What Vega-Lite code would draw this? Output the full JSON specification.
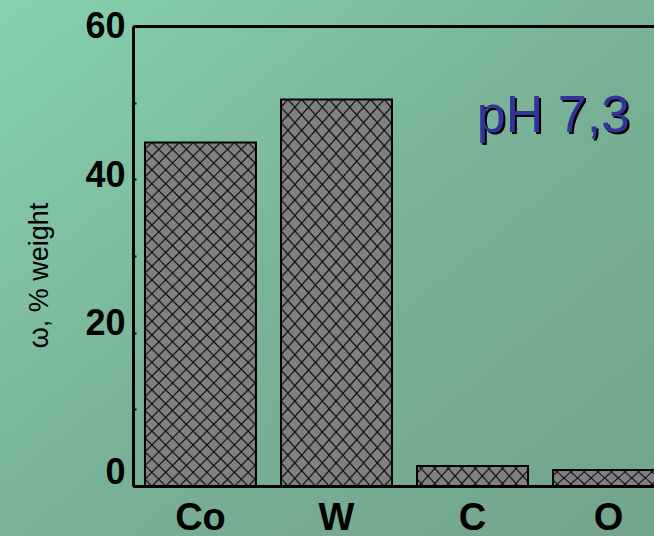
{
  "$schema": "https://vega.github.io/schema/vega-lite/v6.json",
  "width": 521,
  "height": 460,
  "autosize": {"type": "none"},
  "padding": {"left": 133, "top": 26, "right": 0, "bottom": 50},
  "background": "#7BB598",
  "config": {"view": {"stroke": null}, "font": "Liberation Sans", "axis": {"zindex": 2}},
  "resolve": {"scale": {"x": "independent", "y": "independent"}, "axis": {"x": "independent", "y": "independent"}},
  "layer": [
    {
      "data": {"values": [{"bg": 1}]},
      "mark": {
        "type": "rect",
        "clip": false,
        "fill": {
          "gradient": "linear",
          "x1": 0, "y1": 0, "x2": 1, "y2": 1,
          "stops": [
            {"offset": 0, "color": "#86D2AD"},
            {"offset": 0.5, "color": "#79B296"},
            {"offset": 1, "color": "#73A48C"}
          ]
        }
      },
      "encoding": {
        "x": {"datum": -0.2553, "type": "quantitative", "scale": {"domain": [0, 1], "nice": false, "zero": false},
              "axis": {"orient": "top", "domainColor": "black", "domainWidth": 3, "ticks": false, "labels": false, "title": null, "grid": false, "zindex": 2}},
        "x2": {"datum": 1},
        "y": {"datum": -0.1087, "type": "quantitative", "scale": {"domain": [0, 1], "nice": false, "zero": false}, "axis": null},
        "y2": {"datum": 1.0565}
      }
    },
    {
      "data": {"values": [
        {"el": "Co", "w": 44.8},
        {"el": "W", "w": 50.4},
        {"el": "C", "w": 2.6},
        {"el": "O", "w": 2.1}
      ]},
      "layer": [
        {
          "mark": {"type": "bar", "fill": "#808080", "clip": true},
          "encoding": {
            "x": {"field": "el", "type": "nominal", "sort": null,
                  "scale": {"domain": ["Co", "W", "C", "O"], "range": [0, 543], "paddingInner": 0.184, "paddingOuter": 0.088},
                  "axis": {"orient": "bottom", "title": null, "ticks": false, "domainColor": "black", "domainWidth": 3, "zindex": 2,
                           "labelAngle": 0, "labelFontSize": 38, "labelFontWeight": "bold", "labelColor": "black", "labelPadding": 13, "grid": false}},
            "y": {"field": "w", "type": "quantitative",
                  "scale": {"domain": [0, 60], "nice": false},
                  "axis": {"orient": "left", "values": [0, 10, 20, 30, 40, 50, 60], "zindex": 2,
                           "labelExpr": "datum.value % 20 == 0 ? datum.label : ''",
                           "tickSize": -3, "tickWidth": 2, "tickColor": "black",
                           "domainColor": "black", "domainWidth": 3, "grid": false,
                           "labelFontSize": 36, "labelFontWeight": "bold", "labelColor": "black", "labelPadding": 11,
                           "labelOffset": {"condition": [
                             {"test": "datum.value == 0", "value": -14},
                             {"test": "datum.value == 20", "value": -9},
                             {"test": "datum.value == 40", "value": -4}
                           ], "value": 0},
                           "title": "ω, % weight", "titleFontSize": 27, "titleFontWeight": "normal", "titleColor": "black",
                           "titleX": -94, "titleY": 249, "titleAngle": -90, "titleAlign": "center", "titleBaseline": "middle"}}
          }
        },
        {
          "transform": [{"filter": "datum.w > 10"}],
          "mark": {"type": "bar", "clip": true, "fill": {"gradient": "linear", "x1": 0, "y1": 1, "x2": 0.3872, "y2": -0.1981, "stops": [
            {"offset": 0.0115, "color": "transparent"}, {"offset": 0.015, "color": "#111"}, {"offset": 0.0185, "color": "transparent"},
            {"offset": 0.0418, "color": "transparent"}, {"offset": 0.0453, "color": "#111"}, {"offset": 0.0488, "color": "transparent"},
            {"offset": 0.072, "color": "transparent"}, {"offset": 0.0755, "color": "#111"}, {"offset": 0.079, "color": "transparent"},
            {"offset": 0.1023, "color": "transparent"}, {"offset": 0.1058, "color": "#111"}, {"offset": 0.1093, "color": "transparent"},
            {"offset": 0.1325, "color": "transparent"}, {"offset": 0.136, "color": "#111"}, {"offset": 0.1395, "color": "transparent"},
            {"offset": 0.1628, "color": "transparent"}, {"offset": 0.1663, "color": "#111"}, {"offset": 0.1698, "color": "transparent"},
            {"offset": 0.193, "color": "transparent"}, {"offset": 0.1965, "color": "#111"}, {"offset": 0.2, "color": "transparent"},
            {"offset": 0.2233, "color": "transparent"}, {"offset": 0.2268, "color": "#111"}, {"offset": 0.2303, "color": "transparent"},
            {"offset": 0.2535, "color": "transparent"}, {"offset": 0.257, "color": "#111"}, {"offset": 0.2605, "color": "transparent"},
            {"offset": 0.2838, "color": "transparent"}, {"offset": 0.2873, "color": "#111"}, {"offset": 0.2908, "color": "transparent"},
            {"offset": 0.314, "color": "transparent"}, {"offset": 0.3175, "color": "#111"}, {"offset": 0.321, "color": "transparent"},
            {"offset": 0.3443, "color": "transparent"}, {"offset": 0.3478, "color": "#111"}, {"offset": 0.3513, "color": "transparent"},
            {"offset": 0.3745, "color": "transparent"}, {"offset": 0.378, "color": "#111"}, {"offset": 0.3815, "color": "transparent"},
            {"offset": 0.4048, "color": "transparent"}, {"offset": 0.4083, "color": "#111"}, {"offset": 0.4118, "color": "transparent"},
            {"offset": 0.435, "color": "transparent"}, {"offset": 0.4385, "color": "#111"}, {"offset": 0.442, "color": "transparent"},
            {"offset": 0.4653, "color": "transparent"}, {"offset": 0.4688, "color": "#111"}, {"offset": 0.4723, "color": "transparent"},
            {"offset": 0.4955, "color": "transparent"}, {"offset": 0.499, "color": "#111"}, {"offset": 0.5025, "color": "transparent"},
            {"offset": 0.5258, "color": "transparent"}, {"offset": 0.5293, "color": "#111"}, {"offset": 0.5328, "color": "transparent"},
            {"offset": 0.556, "color": "transparent"}, {"offset": 0.5595, "color": "#111"}, {"offset": 0.563, "color": "transparent"},
            {"offset": 0.5863, "color": "transparent"}, {"offset": 0.5898, "color": "#111"}, {"offset": 0.5933, "color": "transparent"},
            {"offset": 0.6165, "color": "transparent"}, {"offset": 0.62, "color": "#111"}, {"offset": 0.6235, "color": "transparent"},
            {"offset": 0.6468, "color": "transparent"}, {"offset": 0.6503, "color": "#111"}, {"offset": 0.6538, "color": "transparent"},
            {"offset": 0.677, "color": "transparent"}, {"offset": 0.6805, "color": "#111"}, {"offset": 0.684, "color": "transparent"},
            {"offset": 0.7073, "color": "transparent"}, {"offset": 0.7108, "color": "#111"}, {"offset": 0.7143, "color": "transparent"},
            {"offset": 0.7375, "color": "transparent"}, {"offset": 0.741, "color": "#111"}, {"offset": 0.7445, "color": "transparent"},
            {"offset": 0.7678, "color": "transparent"}, {"offset": 0.7713, "color": "#111"}, {"offset": 0.7748, "color": "transparent"},
            {"offset": 0.798, "color": "transparent"}, {"offset": 0.8015, "color": "#111"}, {"offset": 0.805, "color": "transparent"},
            {"offset": 0.8283, "color": "transparent"}, {"offset": 0.8318, "color": "#111"}, {"offset": 0.8353, "color": "transparent"},
            {"offset": 0.8585, "color": "transparent"}, {"offset": 0.862, "color": "#111"}, {"offset": 0.8655, "color": "transparent"},
            {"offset": 0.8888, "color": "transparent"}, {"offset": 0.8923, "color": "#111"}, {"offset": 0.8958, "color": "transparent"},
            {"offset": 0.919, "color": "transparent"}, {"offset": 0.9225, "color": "#111"}, {"offset": 0.926, "color": "transparent"},
            {"offset": 0.9493, "color": "transparent"}, {"offset": 0.9528, "color": "#111"}, {"offset": 0.9563, "color": "transparent"},
            {"offset": 0.9795, "color": "transparent"}, {"offset": 0.983, "color": "#111"}, {"offset": 0.9865, "color": "transparent"}
          ]}},
          "encoding": {"x": {"field": "el", "type": "nominal", "sort": null}, "y": {"field": "w", "type": "quantitative"}}
        },
        {
          "transform": [{"filter": "datum.w > 10"}],
          "mark": {"type": "bar", "clip": true, "fill": {"gradient": "linear", "x1": 0, "y1": 0, "x2": 0.3872, "y2": 1.1981, "stops": [
            {"offset": 0.0115, "color": "transparent"}, {"offset": 0.015, "color": "#111"}, {"offset": 0.0185, "color": "transparent"},
            {"offset": 0.0418, "color": "transparent"}, {"offset": 0.0453, "color": "#111"}, {"offset": 0.0488, "color": "transparent"},
            {"offset": 0.072, "color": "transparent"}, {"offset": 0.0755, "color": "#111"}, {"offset": 0.079, "color": "transparent"},
            {"offset": 0.1023, "color": "transparent"}, {"offset": 0.1058, "color": "#111"}, {"offset": 0.1093, "color": "transparent"},
            {"offset": 0.1325, "color": "transparent"}, {"offset": 0.136, "color": "#111"}, {"offset": 0.1395, "color": "transparent"},
            {"offset": 0.1628, "color": "transparent"}, {"offset": 0.1663, "color": "#111"}, {"offset": 0.1698, "color": "transparent"},
            {"offset": 0.193, "color": "transparent"}, {"offset": 0.1965, "color": "#111"}, {"offset": 0.2, "color": "transparent"},
            {"offset": 0.2233, "color": "transparent"}, {"offset": 0.2268, "color": "#111"}, {"offset": 0.2303, "color": "transparent"},
            {"offset": 0.2535, "color": "transparent"}, {"offset": 0.257, "color": "#111"}, {"offset": 0.2605, "color": "transparent"},
            {"offset": 0.2838, "color": "transparent"}, {"offset": 0.2873, "color": "#111"}, {"offset": 0.2908, "color": "transparent"},
            {"offset": 0.314, "color": "transparent"}, {"offset": 0.3175, "color": "#111"}, {"offset": 0.321, "color": "transparent"},
            {"offset": 0.3443, "color": "transparent"}, {"offset": 0.3478, "color": "#111"}, {"offset": 0.3513, "color": "transparent"},
            {"offset": 0.3745, "color": "transparent"}, {"offset": 0.378, "color": "#111"}, {"offset": 0.3815, "color": "transparent"},
            {"offset": 0.4048, "color": "transparent"}, {"offset": 0.4083, "color": "#111"}, {"offset": 0.4118, "color": "transparent"},
            {"offset": 0.435, "color": "transparent"}, {"offset": 0.4385, "color": "#111"}, {"offset": 0.442, "color": "transparent"},
            {"offset": 0.4653, "color": "transparent"}, {"offset": 0.4688, "color": "#111"}, {"offset": 0.4723, "color": "transparent"},
            {"offset": 0.4955, "color": "transparent"}, {"offset": 0.499, "color": "#111"}, {"offset": 0.5025, "color": "transparent"},
            {"offset": 0.5258, "color": "transparent"}, {"offset": 0.5293, "color": "#111"}, {"offset": 0.5328, "color": "transparent"},
            {"offset": 0.556, "color": "transparent"}, {"offset": 0.5595, "color": "#111"}, {"offset": 0.563, "color": "transparent"},
            {"offset": 0.5863, "color": "transparent"}, {"offset": 0.5898, "color": "#111"}, {"offset": 0.5933, "color": "transparent"},
            {"offset": 0.6165, "color": "transparent"}, {"offset": 0.62, "color": "#111"}, {"offset": 0.6235, "color": "transparent"},
            {"offset": 0.6468, "color": "transparent"}, {"offset": 0.6503, "color": "#111"}, {"offset": 0.6538, "color": "transparent"},
            {"offset": 0.677, "color": "transparent"}, {"offset": 0.6805, "color": "#111"}, {"offset": 0.684, "color": "transparent"},
            {"offset": 0.7073, "color": "transparent"}, {"offset": 0.7108, "color": "#111"}, {"offset": 0.7143, "color": "transparent"},
            {"offset": 0.7375, "color": "transparent"}, {"offset": 0.741, "color": "#111"}, {"offset": 0.7445, "color": "transparent"},
            {"offset": 0.7678, "color": "transparent"}, {"offset": 0.7713, "color": "#111"}, {"offset": 0.7748, "color": "transparent"},
            {"offset": 0.798, "color": "transparent"}, {"offset": 0.8015, "color": "#111"}, {"offset": 0.805, "color": "transparent"},
            {"offset": 0.8283, "color": "transparent"}, {"offset": 0.8318, "color": "#111"}, {"offset": 0.8353, "color": "transparent"},
            {"offset": 0.8585, "color": "transparent"}, {"offset": 0.862, "color": "#111"}, {"offset": 0.8655, "color": "transparent"},
            {"offset": 0.8888, "color": "transparent"}, {"offset": 0.8923, "color": "#111"}, {"offset": 0.8958, "color": "transparent"},
            {"offset": 0.919, "color": "transparent"}, {"offset": 0.9225, "color": "#111"}, {"offset": 0.926, "color": "transparent"},
            {"offset": 0.9493, "color": "transparent"}, {"offset": 0.9528, "color": "#111"}, {"offset": 0.9563, "color": "transparent"},
            {"offset": 0.9795, "color": "transparent"}, {"offset": 0.983, "color": "#111"}, {"offset": 0.9865, "color": "transparent"}
          ]}},
          "encoding": {"x": {"field": "el", "type": "nominal", "sort": null}, "y": {"field": "w", "type": "quantitative"}}
        },
        {
          "transform": [{"filter": "datum.w <= 10"}],
          "mark": {"type": "bar", "clip": true, "fill": {"gradient": "linear", "x1": 0, "y1": 1, "x2": 1.1324, "y2": 0.8164, "stops": [
            {"offset": 0.038, "color": "transparent"}, {"offset": 0.05, "color": "#111"}, {"offset": 0.062, "color": "transparent"},
            {"offset": 0.143, "color": "transparent"}, {"offset": 0.155, "color": "#111"}, {"offset": 0.167, "color": "transparent"},
            {"offset": 0.248, "color": "transparent"}, {"offset": 0.26, "color": "#111"}, {"offset": 0.272, "color": "transparent"},
            {"offset": 0.353, "color": "transparent"}, {"offset": 0.365, "color": "#111"}, {"offset": 0.377, "color": "transparent"},
            {"offset": 0.458, "color": "transparent"}, {"offset": 0.47, "color": "#111"}, {"offset": 0.482, "color": "transparent"},
            {"offset": 0.563, "color": "transparent"}, {"offset": 0.575, "color": "#111"}, {"offset": 0.587, "color": "transparent"},
            {"offset": 0.668, "color": "transparent"}, {"offset": 0.68, "color": "#111"}, {"offset": 0.692, "color": "transparent"},
            {"offset": 0.773, "color": "transparent"}, {"offset": 0.785, "color": "#111"}, {"offset": 0.797, "color": "transparent"},
            {"offset": 0.878, "color": "transparent"}, {"offset": 0.89, "color": "#111"}, {"offset": 0.902, "color": "transparent"},
            {"offset": 0.983, "color": "transparent"}, {"offset": 0.995, "color": "#111"}, {"offset": 1, "color": "transparent"}
          ]}},
          "encoding": {"x": {"field": "el", "type": "nominal", "sort": null}, "y": {"field": "w", "type": "quantitative"}}
        },
        {
          "transform": [{"filter": "datum.w <= 10"}],
          "mark": {"type": "bar", "clip": true, "fill": {"gradient": "linear", "x1": 0, "y1": 0, "x2": 1.1324, "y2": 0.1836, "stops": [
            {"offset": 0.038, "color": "transparent"}, {"offset": 0.05, "color": "#111"}, {"offset": 0.062, "color": "transparent"},
            {"offset": 0.143, "color": "transparent"}, {"offset": 0.155, "color": "#111"}, {"offset": 0.167, "color": "transparent"},
            {"offset": 0.248, "color": "transparent"}, {"offset": 0.26, "color": "#111"}, {"offset": 0.272, "color": "transparent"},
            {"offset": 0.353, "color": "transparent"}, {"offset": 0.365, "color": "#111"}, {"offset": 0.377, "color": "transparent"},
            {"offset": 0.458, "color": "transparent"}, {"offset": 0.47, "color": "#111"}, {"offset": 0.482, "color": "transparent"},
            {"offset": 0.563, "color": "transparent"}, {"offset": 0.575, "color": "#111"}, {"offset": 0.587, "color": "transparent"},
            {"offset": 0.668, "color": "transparent"}, {"offset": 0.68, "color": "#111"}, {"offset": 0.692, "color": "transparent"},
            {"offset": 0.773, "color": "transparent"}, {"offset": 0.785, "color": "#111"}, {"offset": 0.797, "color": "transparent"},
            {"offset": 0.878, "color": "transparent"}, {"offset": 0.89, "color": "#111"}, {"offset": 0.902, "color": "transparent"},
            {"offset": 0.983, "color": "transparent"}, {"offset": 0.995, "color": "#111"}, {"offset": 1, "color": "transparent"}
          ]}},
          "encoding": {"x": {"field": "el", "type": "nominal", "sort": null}, "y": {"field": "w", "type": "quantitative"}}
        },
        {
          "mark": {"type": "bar", "fillOpacity": 0, "stroke": "black", "strokeWidth": 2, "clip": true},
          "encoding": {"x": {"field": "el", "type": "nominal", "sort": null}, "y": {"field": "w", "type": "quantitative"}}
        },
        {
          "data": {"values": [{"label": "pH 7,3"}]},
          "mark": {"type": "text", "align": "right", "baseline": "alphabetic", "fontSize": 52, "color": "black", "dx": 23.5, "dy": 2},
          "encoding": {
            "x": {"datum": "O", "type": "nominal"},
            "y": {"datum": 46.2, "type": "quantitative"},
            "text": {"field": "label"}
          }
        },
        {
          "data": {"values": [{"label": "pH 7,3"}]},
          "mark": {"type": "text", "align": "right", "baseline": "alphabetic", "fontSize": 52, "color": "#33339A", "dx": 21.5},
          "encoding": {
            "x": {"datum": "O", "type": "nominal"},
            "y": {"datum": 46.2, "type": "quantitative"},
            "text": {"field": "label"}
          }
        }
      ]
    }
  ]
}
